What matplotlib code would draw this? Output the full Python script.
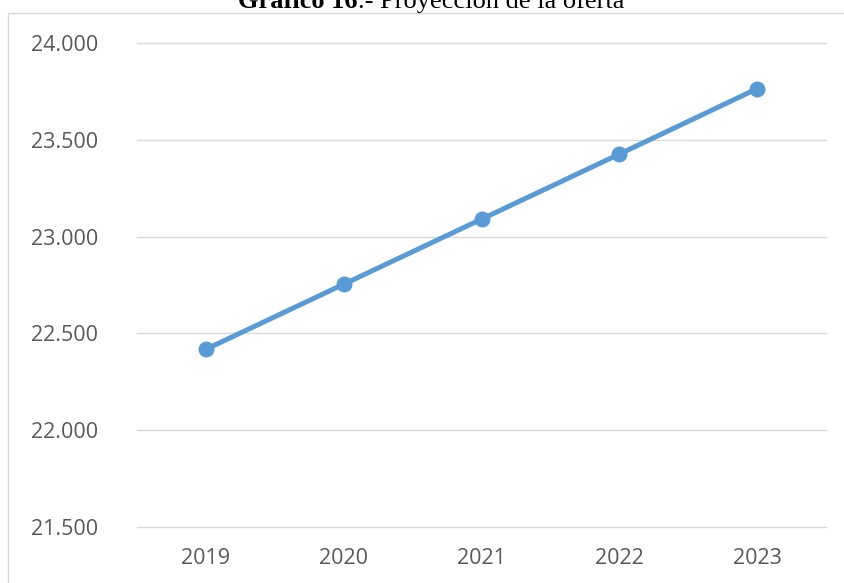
import matplotlib.pyplot as plt
from matplotlib.patches import Rectangle
from matplotlib.ticker import FuncFormatter

# proyección anual de la oferta
years = ["2019", "2020", "2021", "2022", "2023"]
oferta = [22418, 22754, 23090, 23426, 23764]
y_ticks = [21500, 22000, 22500, 23000, 23500, 24000]

W, H = 844, 583
fig = plt.figure(figsize=(W / 100, H / 100), dpi=100)

# marco gris del gráfico
fig.patches.append(Rectangle((8 / W, -0.05), 1.1, 1 - 12.7 / H + 0.05,
                             transform=fig.transFigure, fill=False,
                             edgecolor="#d9d9d9", linewidth=1.0))

ax = fig.add_axes([137 / W, 1 - 527 / H, 689 / W, 484 / H])
x = list(range(len(years)))
ax.plot(x, oferta, color="#5b9bd5", linewidth=3.6, marker="o",
        markersize=10.5, solid_capstyle="round", zorder=3)

ax.set_xlim(-0.5, len(years) - 0.5)
ax.set_ylim(y_ticks[0], y_ticks[-1])
ax.set_yticks(y_ticks)
ax.set_xticks(x)
ax.set_xticklabels(years)
ax.yaxis.set_major_formatter(FuncFormatter(lambda v, p: f"{int(v):,}".replace(",", ".")))
ax.grid(axis="y", color="#d9d9d9", linewidth=1.0)
for gl in ax.get_ygridlines():
    gl.set_clip_on(False)
ax.set_axisbelow(True)
for s in ax.spines.values():
    s.set_visible(False)
ax.tick_params(length=0, colors="#595959", labelsize=15.5)
ax.tick_params(axis="y", pad=28)
ax.tick_params(axis="x", pad=15)
for lbl in ax.get_xticklabels() + ax.get_yticklabels():
    lbl.set_fontfamily("Open Sans")

# título (parte en negrita y parte normal), cortado arriba
base = 1 - 8 / H
t1 = fig.text(238 / W, base, "Gráfico 16", fontfamily="Liberation Serif",
              fontweight="bold", fontsize=19, va="baseline", ha="left")
fig.canvas.draw()
bb = t1.get_window_extent()
fig.text(bb.x1 / W, base, ".- Proyección de la oferta",
         fontfamily="Liberation Serif", fontsize=19, va="baseline", ha="left")

fig.savefig("out.png", dpi=100)
